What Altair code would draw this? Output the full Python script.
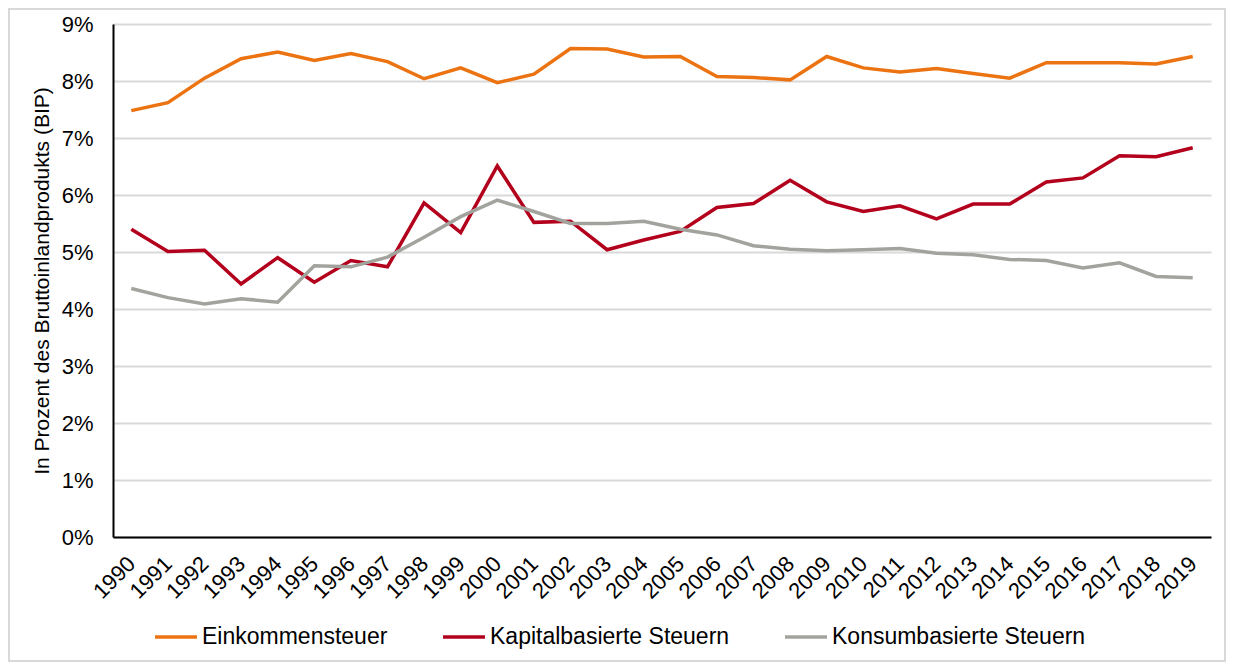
import altair as alt
import pandas as pd

years = [str(y) for y in range(1990, 2020)]
series_names = ["Einkommensteuer", "Kapitalbasierte Steuern", "Konsumbasierte Steuern"]
einkommen = [7.48, 7.62, 8.05, 8.39, 8.51, 8.36, 8.48, 8.34, 8.04, 8.23,
             7.97, 8.12, 8.57, 8.56, 8.42, 8.43, 8.08, 8.06, 8.02, 8.43,
             8.23, 8.16, 8.22, 8.13, 8.05, 8.32, 8.32, 8.32, 8.30, 8.43]
kapital = [5.40, 5.01, 5.03, 4.44, 4.90, 4.47, 4.85, 4.74, 5.86, 5.34,
           6.51, 5.52, 5.54, 5.04, 5.21, 5.36, 5.78, 5.85, 6.26, 5.88,
           5.71, 5.81, 5.58, 5.84, 5.84, 6.23, 6.30, 6.69, 6.67, 6.83]
konsum = [4.36, 4.20, 4.09, 4.18, 4.12, 4.76, 4.74, 4.91, 5.26, 5.62,
          5.91, 5.71, 5.50, 5.50, 5.54, 5.40, 5.30, 5.11, 5.05, 5.02,
          5.04, 5.06, 4.98, 4.95, 4.87, 4.85, 4.72, 4.81, 4.57, 4.55]
colors = ["#EC7311", "#B3001C", "#A3A39E"]
y_ticks = [0, 1, 2, 3, 4, 5, 6, 7, 8, 9]

rows = []
for name, vals in zip(series_names, [einkommen, kapital, konsum]):
    for yr, v in zip(years, vals):
        rows.append({"Jahr": yr, "Wert": v, "Serie": name})
df = pd.DataFrame(rows)

FONT = "Liberation Sans"

lines = alt.Chart(df).mark_line(strokeWidth=3.5).encode(
    x=alt.X("Jahr:O", sort=years, title=None,
            axis=alt.Axis(labelAngle=-45, labelAlign="right", labelBaseline="middle",
                          labelPadding=23, ticks=False, domainColor="black",
                          domainWidth=2, grid=False, labelFontSize=22)),
    y=alt.Y("Wert:Q", scale=alt.Scale(domain=[0, 9], nice=False),
            title="In Prozent des Bruttoinlandprodukts  (BIP)",
            axis=alt.Axis(values=y_ticks, labelExpr="datum.value + '%'", ticks=False,
                          labelPadding=20, titlePadding=9, domainColor="black",
                          domainWidth=2, gridColor="#D9D9D9", gridWidth=2,
                          labelFontSize=22, titleFontSize=21, titleFontWeight="normal")),
    color=alt.Color("Serie:N", sort=series_names,
                    scale=alt.Scale(domain=series_names, range=colors),
                    legend=alt.Legend(title=None, orient="none", direction="horizontal",
                                      legendX=40, legendY=590, symbolType="stroke",
                                      symbolSize=1760, symbolStrokeWidth=3.5,
                                      labelFontSize=23, labelOffset=3, labelLimit=0,
                                      columnPadding=48)),
)

frame = alt.Chart(pd.DataFrame({"a": [0]})).mark_rect(
    filled=False, stroke="#D9D9D9", strokeWidth=2, clip=False
).encode(x=alt.value(-104), x2=alt.value(1112), y=alt.value(-15), y2=alt.value(637))

chart = alt.layer(frame, lines).properties(
    width=1098, height=513,
    autosize=alt.AutoSizeParams(type="none"),
    padding={"left": 105, "top": 16, "right": 15, "bottom": 125},
).configure(font=FONT).configure_view(stroke=None).configure_axis(
    labelColor="black", titleColor="black", labelFont=FONT, titleFont=FONT
).configure_legend(labelColor="black", labelFont=FONT)

chart.save("out.html", embed_options={"renderer": "svg", "actions": False})
